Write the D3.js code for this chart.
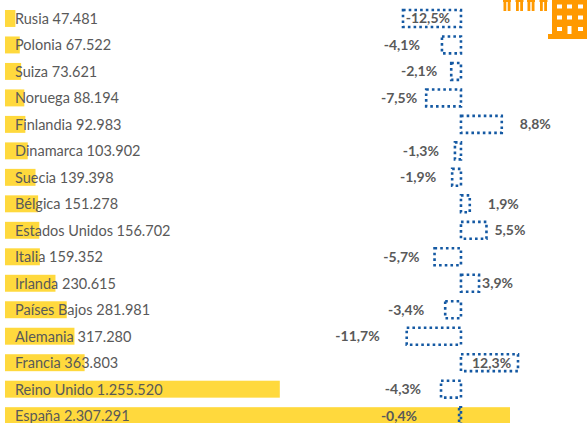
<!DOCTYPE html>
<html>
<head>
<meta charset="utf-8">
<script src="https://cdn.jsdelivr.net/npm/d3@7"></script>
<style>
  html, body { margin: 0; padding: 0; background: #fff; overflow: hidden; }
  text { font-family: Lato, sans-serif; fill: #595959; }
</style>
</head>
<body>
<div id="chart"></div>
<script>
var width = 587, height = 423;

var paises = ["Rusia", "Polonia", "Suiza", "Noruega", "Finlandia", "Dinamarca", "Suecia", "Bélgica", "Estados Unidos", "Italia", "Irlanda", "Países Bajos", "Alemania", "Francia", "Reino Unido", "España"];
var viajeros = [47481, 67522, 73621, 88194, 92983, 103902, 139398, 151278, 156702, 159352, 230615, 281981, 317280, 363803, 1255520, 2307291];
var etiquetas = ["47.481", "67.522", "73.621", "88.194", "92.983", "103.902", "139.398", "151.278", "156.702", "159.352", "230.615", "281.981", "317.280", "363.803", "1.255.520", "2.307.291"];
var variacion = [-12.5, -4.1, -2.1, -7.5, 8.8, -1.3, -1.9, 1.9, 5.5, -5.7, 3.9, -3.4, -11.7, 12.3, -4.3, -0.4];
var variacionTxt = ["-12,5%", "-4,1%", "-2,1%", "-7,5%", "8,8%", "-1,3%", "-1,9%", "1,9%", "5,5%", "-5,7%", "3,9%", "-3,4%", "-11,7%", "12,3%", "-4,3%", "-0,4%"];

var svg = d3.select("#chart").append("svg").attr("width", width).attr("height", height);

var y = d3.scaleBand().domain(paises).range([5.23, 428.9]).paddingInner(0.36).paddingOuter(0.18);
var x = d3.scaleLinear().domain([0, 2307291]).range([5, 510]);
var xVar = d3.scaleLinear().domain([-12.5, 12.3]).range([403, 518]);

// gap between the end of each dotted bar and its % label, by eye.
// negative means the label starts inside the bar
var labelGap = [-47, 22, 14, 9, 18, 16, 16, 18, 8, 15, 3, 21, 27, -46, 20, 42];

// barras amarillas
svg.append("g").selectAll("rect").data(paises).enter().append("rect")
  .attr("x", x(0))
  .attr("y", function(d) { return y(d); })
  .attr("width", function(d, i) { return x(viajeros[i]) - x(0); })
  .attr("height", y.bandwidth())
  .attr("fill", "#ffd93d");

// texto pais + valor
svg.append("g").selectAll("text").data(paises).enter().append("text")
  .attr("x", 15)
  .attr("y", function(d) { return y(d) + y.bandwidth() / 2 + 5.5; })
  .attr("font-size", 14.5)
  .text(function(d, i) { return d + " " + etiquetas[i]; });

// barras punteadas de variacion
svg.append("g").selectAll("rect").data(variacion).enter().append("rect")
  .attr("x", function(d) { return Math.min(xVar(d), xVar(0)); })
  .attr("y", function(d, i) { return y(paises[i]); })
  .attr("width", function(d) { return Math.abs(xVar(d) - xVar(0)); })
  .attr("height", y.bandwidth())
  .attr("fill", "none")
  .attr("stroke", "#1459a3")
  .attr("stroke-width", 2.6)
  .attr("stroke-dasharray", "2.6 3.1");

// etiquetas %
svg.append("g").selectAll("text").data(variacion).enter().append("text")
  .attr("x", function(d, i) { return d < 0 ? xVar(d) - labelGap[i] : xVar(d) + labelGap[i]; })
  .attr("y", function(d, i) { return y(paises[i]) + y.bandwidth() / 2 + 5; })
  .attr("text-anchor", function(d) { return d < 0 ? "end" : "start"; })
  .attr("font-size", 14)
  .attr("font-weight", 700)
  .text(function(d, i) { return variacionTxt[i]; });

// icono naranja arriba a la derecha (cortado por el borde)
var naranja = "#ff9900";
var icono = svg.append("g");
icono.append("rect").attr("x", 552).attr("y", 0).attr("width", 35).attr("height", 35).attr("fill", naranja);
icono.append("rect").attr("x", 548).attr("y", 34).attr("width", 39).attr("height", 5).attr("fill", naranja);

[[557, 4.5], [567, 4.5], [578, 4.5], [557, 15.5], [567, 15.5], [578, 15.5], [557, 27], [578, 27]].forEach(function(v) {
  icono.append("rect").attr("x", v[0]).attr("y", v[1]).attr("width", 5).attr("height", 4).attr("fill", "#fff");
});
icono.append("rect").attr("x", 567.5).attr("y", 26).attr("width", 4).attr("height", 8).attr("fill", "#fff");

[503, 515.5, 527, 539.5].forEach(function(cx) {
  icono.append("rect").attr("x", cx).attr("y", 0).attr("width", 8).attr("height", 2).attr("fill", naranja);
  icono.append("rect").attr("x", cx + 0.5).attr("y", 0).attr("width", 2.8).attr("height", 11).attr("fill", naranja);
  icono.append("rect").attr("x", cx + 4.7).attr("y", 0).attr("width", 2.8).attr("height", 11).attr("fill", naranja);
});
</script>
</body>
</html>
